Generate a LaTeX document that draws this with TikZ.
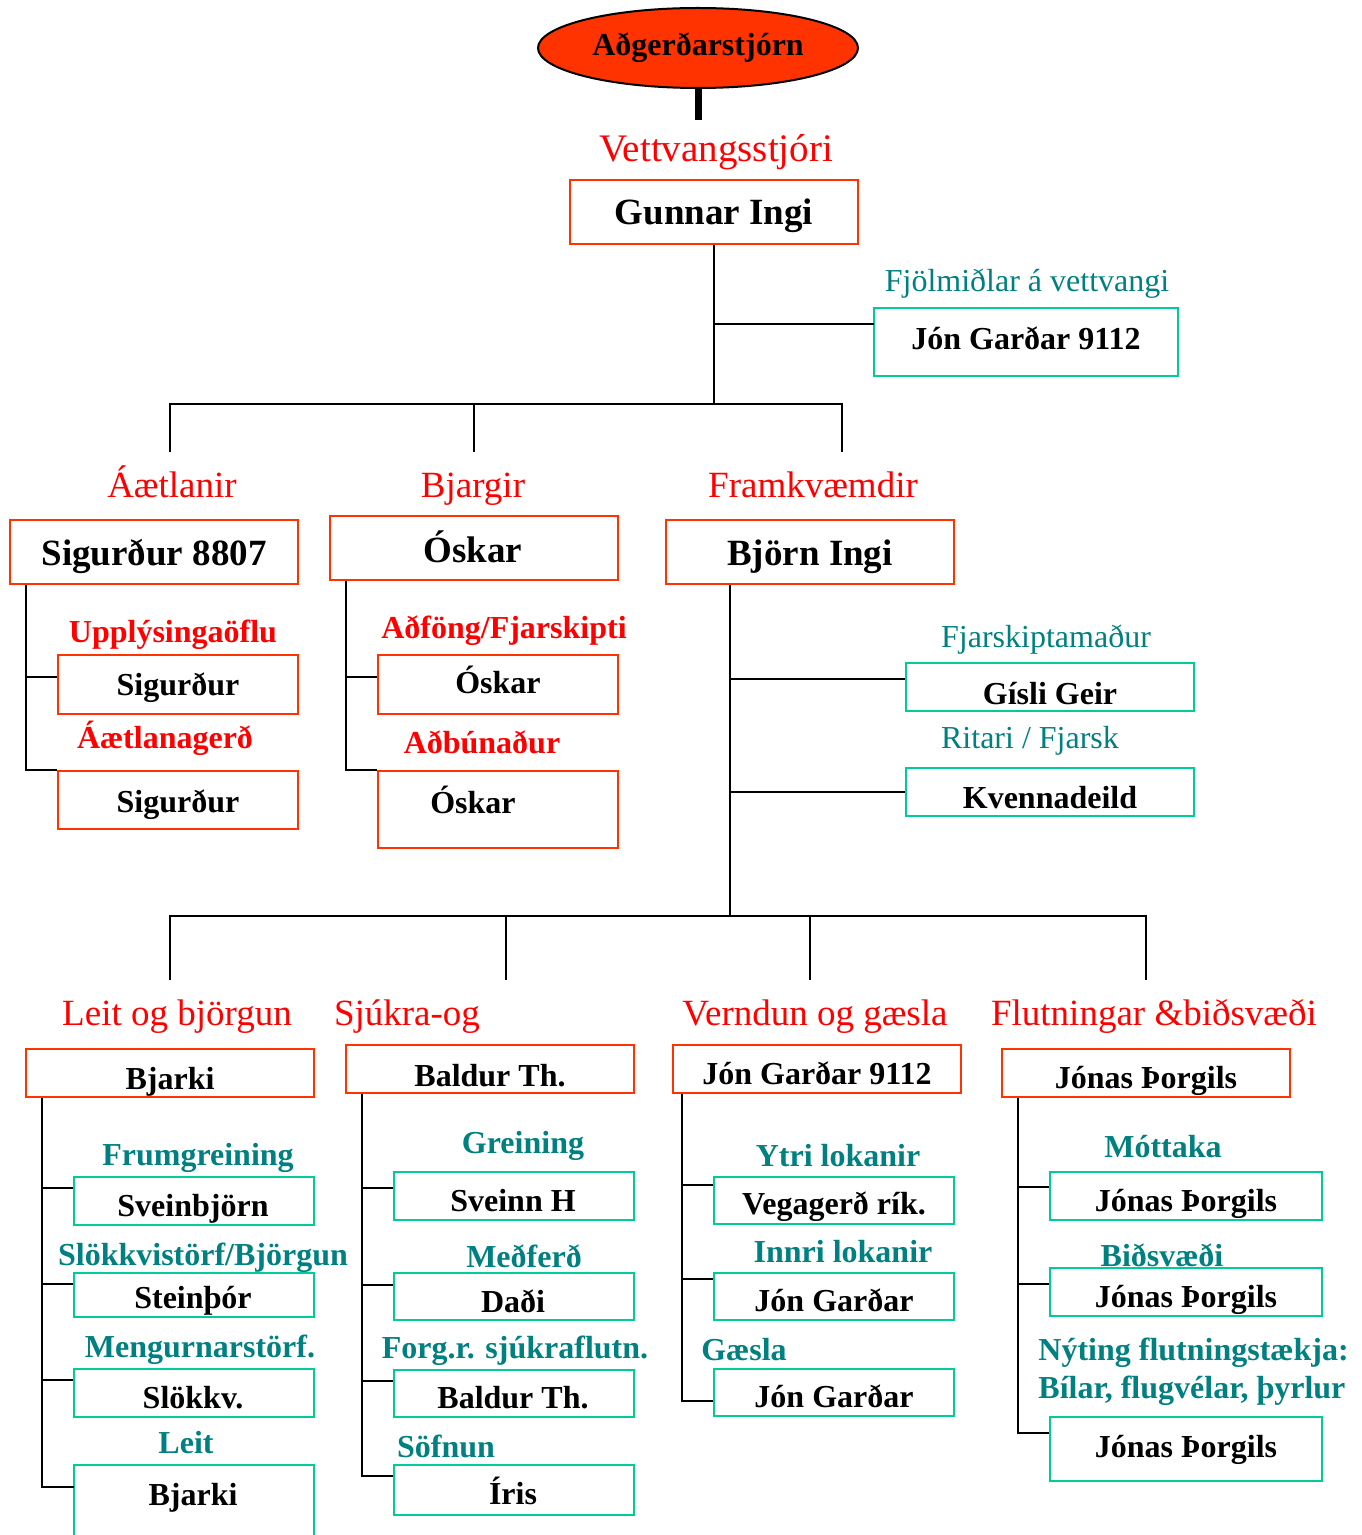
\documentclass[tikz,border=0pt]{standalone}
\usepackage{fontspec}
\setmainfont{Liberation Serif}
\usetikzlibrary{shapes.geometric,fit}
\definecolor{boxred}{HTML}{FF3300}
\definecolor{labred}{HTML}{FF0000}
\definecolor{labteal}{HTML}{008080}
\definecolor{boxteal}{HTML}{00CC99}
\newcommand\szS{\fontsize{16}{19}\selectfont}
\newcommand\szL{\fontsize{18.5}{22}\selectfont}
\newcommand\szXL{\fontsize{19.5}{23}\selectfont}
\tikzset{
  rbox/.style={draw=boxred, line width=1pt, inner sep=0pt},
  tbox/.style={draw=boxteal, line width=1pt, inner sep=0pt},
  conn/.style={draw=black, line width=1pt},
  nmS/.style={anchor=base, inner sep=0pt, font=\bfseries\szS},
  nmL/.style={anchor=base, inner sep=0pt, font=\bfseries\szL},
  rlab/.style={anchor=base, inner sep=0pt, text=labred, font=\szL},
  tlab/.style={anchor=base, inner sep=0pt, text=labteal, font=\szS},
  rsub/.style={anchor=base, inner sep=0pt, text=labred, font=\bfseries\szS},
  tsub/.style={anchor=base, inner sep=0pt, text=labteal, font=\bfseries\szS},
}
\begin{document}
\begin{tikzpicture}[x=0.5pt,y=-0.5pt]
\useasboundingbox (0,0) rectangle (1361,1535);

% ---------- top ----------
\node[ellipse, draw=black, line width=1pt, fill=boxred, minimum width=160pt, minimum height=40pt, inner sep=0pt, font=\bfseries\szS] (adg) at (698,48) {Aðgerðarstjórn};
\coordinate (c0) at (698,120);
\draw[line width=3.5pt] (adg.south) -- (c0);

\node[anchor=base, inner sep=0pt, text=labred, font=\szXL] (vett) at (716,162) {Vettvangsstjóri};
\node[rbox, fit={(570,180) (858,244)}] (gunnar) {};
\node[nmL] (gunnarT) at (714,225) {Gunnar Ingi};

\node[tlab] (fjolm) at (1027,292) {Fjölmiðlar á vettvangi};
\node[tbox, fit={(874,308) (1178,376)}] (jon) {};
\node[nmS] (jonT) at (1026,350) {Jón Garðar 9112};

\coordinate (j1) at (874,324);
\coordinate (h1L) at (170,404);
\coordinate (h1M) at (474,404);
\coordinate (h1R) at (842,404);
\coordinate (d1) at (170,452);
\coordinate (d2) at (474,452);
\coordinate (d3) at (842,452);
\draw[conn] (gunnar.south) -- (gunnar.south |- h1L);
\draw[conn] (gunnar.south |- j1) -- (j1);
\draw[conn] (d1) -- (h1L) -- (h1R) -- (d3);
\draw[conn] (h1M) -- (d2);

% ---------- second level ----------
\node[rlab] (aetl) at (172,497) {Áætlanir};
\node[rlab] (bjarg) at (473,497) {Bjargir};
\node[rlab] (framk) at (813,497) {Framkvæmdir};

\node[rbox, fit={(10,520) (298,584)}] (sig) {};
\node[nmL] (sigT) at (154,565) {Sigurður 8807};
\node[rbox, fit={(330,516) (618,580)}] (osk) {};
\node[nmL] (oskT) at (473,562) {Óskar};
\node[rbox, fit={(666,520) (954,584)}] (bjorn) {};
\node[nmL] (bjornT) at (810,565) {Björn Ingi};

% Sigurður subtree
\node[rsub] (upl) at (173,642) {Upplýsingaöflu};
\node[rbox, fit={(58,655) (298,714)}] (sigA) {};
\node[nmS] (sigAT) at (178,695) {Sigurður};
\node[rsub] (aetlg) at (165,748) {Áætlanagerð};
\node[rbox, fit={(58,771) (298,829)}] (sigB) {};
\node[nmS] (sigBT) at (178,812) {Sigurður};
\coordinate (vA) at (26,0);
\coordinate (sigAc) at ([yshift=4pt]sigA.west);
\draw[conn] (sig.south -| vA) |- (sigAc);
\draw[conn] (sig.south -| vA) |- (sigB.north west);

% Óskar subtree
\node[rsub] (adf) at (504,638) {Aðföng/Fjarskipti};
\node[rbox, fit={(378,655) (618,714)}] (oskA) {};
\node[nmS] (oskAT) at (498,693) {Óskar};
\node[rsub] (adb) at (482,753) {Aðbúnaður};
\node[rbox, fit={(378,771) (618,848)}] (oskB) {};
\node[nmS] (oskBT) at (473,813) {Óskar};
\coordinate (vO) at (346,0);
\coordinate (oskAc) at ([yshift=4pt]oskA.west);
\draw[conn] (osk.south -| vO) |- (oskAc);
\draw[conn] (osk.south -| vO) |- (oskB.north west);

% Björn subtree
\node[tlab] (fjsk) at (1046,647) {Fjarskiptamaður};
\node[tbox, fit={(906,663) (1194,711)}] (gisli) {};
\node[nmS] (gisliT) at (1050,704) {Gísli Geir};
\node[tlab] (rit) at (1030,748) {Ritari / Fjarsk};
\node[tbox, fit={(906,768) (1194,816)}] (kvenna) {};
\node[nmS] (kvennaT) at (1050,808) {Kvennadeild};
\coordinate (h2M) at (730,916);
\coordinate (gisc) at ([yshift=4pt]gisli.west);
\draw[conn] (bjorn.south -| h2M) -- (h2M);
\draw[conn] (gisc -| h2M) -- (gisc);
\draw[conn] (kvenna.west -| h2M) -- (kvenna.west);

\coordinate (h2L) at (170,916);
\coordinate (h2a) at (506,916);
\coordinate (h2b) at (810,916);
\coordinate (h2R) at (1146,916);
\coordinate (e1) at (170,980);
\coordinate (e2) at (506,980);
\coordinate (e3) at (810,980);
\coordinate (e4) at (1146,980);
\draw[conn] (e1) -- (h2L) -- (h2R) -- (e4);
\draw[conn] (h2a) -- (e2);
\draw[conn] (h2b) -- (e3);

% ---------- third level ----------
\node[rlab] (leit) at (177,1025) {Leit og björgun};
\node[rlab] (sjuk) at (407,1025) {Sjúkra-og};
\node[rlab] (vernd) at (815,1025) {Verndun og gæsla};
\node[rlab] (flut) at (1154,1025) {Flutningar \&biðsvæði};

\node[rbox, fit={(26,1049) (314,1097)}] (bjarki) {};
\node[nmS] (bjarkiT) at (170,1089) {Bjarki};
\node[rbox, fit={(346,1045) (634,1093)}] (baldur) {};
\node[nmS] (baldurT) at (490,1086) {Baldur Th.};
\node[rbox, fit={(673,1045) (961,1093)}] (jong) {};
\node[nmS] (jongT) at (817,1084) {Jón Garðar 9112};
\node[rbox, fit={(1002,1049) (1290,1097)}] (jonas) {};
\node[nmS] (jonasT) at (1146,1088) {Jónas Þorgils};

% Leit og björgun subtree
\node[tsub] (frum) at (198,1165) {Frumgreining};
\node[tbox, fit={(74,1177) (314,1225)}] (L1) {};
\node[nmS] (L1T) at (193,1216) {Sveinbjörn};
\node[tsub] (slokb) at (203,1265) {Slökkvistörf/Björgun};
\node[tbox, fit={(74,1273) (314,1317)}] (L2) {};
\node[nmS] (L2T) at (193,1308) {Steinþór};
\node[tsub] (meng) at (200,1357) {Mengurnarstörf.};
\node[tbox, fit={(74,1369) (314,1417)}] (L3) {};
\node[nmS] (L3T) at (193,1408) {Slökkv.};
\node[tsub] (leitL) at (186,1453) {Leit};
\node[inner sep=0pt, fit={(74,1465) (314,1545)}] (L4) {};
\draw[draw=boxteal, line width=1pt] (L4.south west) |- (L4.north east) -- (L4.south east);
\node[nmS] (L4T) at (193,1505) {Bjarki};
\coordinate (vL) at (42,0);
\coordinate (L1c) at ([yshift=6.5pt]L1.west);
\coordinate (L2c) at ([yshift=5.5pt]L2.west);
\coordinate (L3c) at ([yshift=6.5pt]L3.west);
\coordinate (L4c) at ([yshift=-11pt]L4.north west);
\draw[conn] (bjarki.south -| vL) |- (L1c);
\draw[conn] (bjarki.south -| vL) |- (L2c);
\draw[conn] (bjarki.south -| vL) |- (L3c);
\draw[conn] (bjarki.south -| vL) |- (L4c);

% Sjúkra subtree
\node[tsub] (grein) at (523,1153) {Greining};
\node[tbox, fit={(394,1172) (634,1220)}] (S1) {};
\node[nmS] (S1T) at (513,1211) {Sveinn H};
\node[tsub] (medf) at (524,1267) {Meðferð};
\node[tbox, fit={(394,1273) (634,1320)}] (S2) {};
\node[nmS] (S2T) at (513,1312) {Daði};
\node[tsub] (forg) at (515,1358) {Forg.r. sjúkraflutn.};
\node[tbox, fit={(394,1370) (634,1417)}] (S3) {};
\node[nmS] (S3T) at (513,1408) {Baldur Th.};
\node[tsub] (sofn) at (446,1457) {Söfnun};
\node[tbox, fit={(394,1465) (634,1515)}] (S4) {};
\node[nmS] (S4T) at (513,1504) {Íris};
\coordinate (vS) at (362,0);
\coordinate (S1c) at ([yshift=4pt]S1.west);
\coordinate (S2c) at ([yshift=6pt]S2.west);
\coordinate (S3c) at ([yshift=6.5pt]S3.west);
\coordinate (S4c) at ([yshift=7pt]S4.west);
\draw[conn] (baldur.south -| vS) |- (S1c);
\draw[conn] (baldur.south -| vS) |- (S2c);
\draw[conn] (baldur.south -| vS) |- (S3c);
\draw[conn] (baldur.south -| vS) |- (S4c);

% Verndun subtree
\node[tsub] (ytri) at (838,1166) {Ytri lokanir};
\node[tbox, fit={(714,1177) (954,1224)}] (V1) {};
\node[nmS] (V1T) at (834,1214) {Vegagerð rík.};
\node[tsub] (innri) at (843,1262) {Innri lokanir};
\node[tbox, fit={(714,1273) (954,1320)}] (V2) {};
\node[nmS] (V2T) at (834,1311) {Jón Garðar};
\node[tsub] (gaesla) at (744,1360) {Gæsla};
\node[tbox, fit={(714,1369) (954,1416)}] (V3) {};
\node[nmS] (V3T) at (834,1407) {Jón Garðar};
\coordinate (vV) at (682,0);
\coordinate (V1c) at ([yshift=8pt]V1.west);
\coordinate (V2c) at ([yshift=9pt]V2.west);
\coordinate (V3c) at ([yshift=-4pt]V3.west);
\draw[conn] (jong.south -| vV) |- (V1c);
\draw[conn] (jong.south -| vV) |- (V2c);
\draw[conn] (jong.south -| vV) |- (V3c);

% Flutningar subtree
\node[tsub] (mott) at (1163,1157) {Móttaka};
\node[tbox, fit={(1050,1172) (1322,1220)}] (F1) {};
\node[nmS] (F1T) at (1186,1211) {Jónas Þorgils};
\node[tsub] (bids) at (1162,1266) {Biðsvæði};
\node[tbox, fit={(1050,1268) (1322,1316)}] (F2) {};
\node[nmS] (F2T) at (1186,1307) {Jónas Þorgils};
\node[tsub, anchor=base west] (nyt) at (1038,1360) {Nýting flutningstækja:};
\node[tsub, anchor=base west] (bilar) at (1038,1398) {Bílar, flugvélar, þyrlur};
\node[tbox, fit={(1050,1417) (1322,1481)}] (F3) {};
\node[nmS] (F3T) at (1186,1457) {Jónas Þorgils};
\coordinate (vF) at (1018,0);
\coordinate (F1c) at ([yshift=4.5pt]F1.west);
\coordinate (F2c) at ([yshift=4pt]F2.west);
\coordinate (F3c) at ([yshift=8pt]F3.west);
\draw[conn] (jonas.south -| vF) |- (F1c);
\draw[conn] (jonas.south -| vF) |- (F2c);
\draw[conn] (jonas.south -| vF) |- (F3c);
\end{tikzpicture}
\end{document}
